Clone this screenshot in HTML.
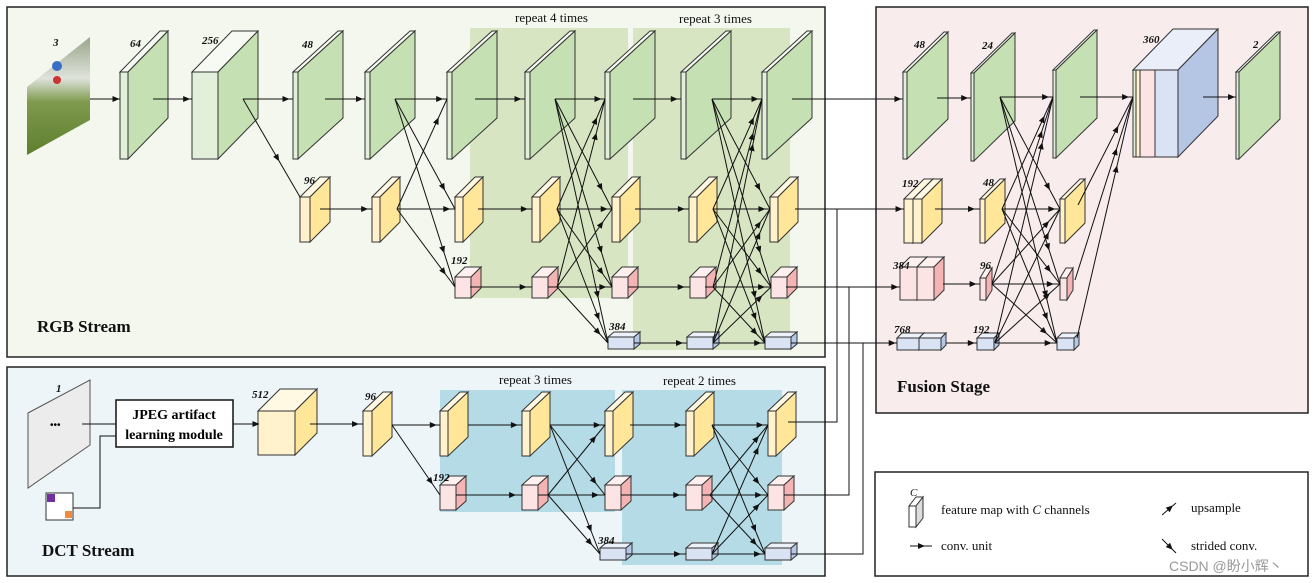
<!DOCTYPE html>
<html><head><meta charset="utf-8"><style>
body{margin:0;background:#fff;width:1315px;height:583px;overflow:hidden}
svg{display:block}
.l{font-family:"Liberation Serif",serif;font-style:italic;font-weight:bold;font-size:11px;fill:#111}
.r{font-family:"Liberation Serif",serif;font-size:13px;fill:#111}
.t{font-family:"Liberation Serif",serif;font-weight:bold;font-size:17px;fill:#111}
</style></head><body>
<svg id="s" width="1315" height="583" viewBox="0 0 1315 583" xmlns="http://www.w3.org/2000/svg">
<rect x="7" y="7" width="818" height="350" fill="#f3f7ee" stroke="#222" stroke-width="1.5"/>
<rect x="7" y="367" width="818" height="209" fill="#edf5f8" stroke="#222" stroke-width="1.5"/>
<rect x="876" y="7" width="432" height="406" fill="#f8eced" stroke="#222" stroke-width="1.5"/>
<rect x="875" y="472" width="433" height="104" fill="#fff" stroke="#222" stroke-width="1.5"/>
<rect x="470" y="28" width="158" height="270" fill="#d8e5c3"/>
<rect x="633" y="28" width="157" height="322" fill="#d8e5c3"/>
<rect x="440" y="390" width="175" height="122" fill="#b5dce6"/>
<rect x="622" y="390" width="160" height="175" fill="#b5dce6"/>
<defs><linearGradient id="img" x1="0" y1="0" x2="0" y2="1"><stop offset="0" stop-color="#9aa58a"/><stop offset="0.35" stop-color="#dfe3dc"/><stop offset="0.55" stop-color="#7f9a4e"/><stop offset="1" stop-color="#5e7f2e"/></linearGradient></defs>
<polygon points="27,87 90,37 90,120 27,155" fill="url(#img)"/>
<circle cx="57" cy="66" r="5" fill="#3a6fc8"/><circle cx="57" cy="80" r="4" fill="#c33"/>
<polygon points="28,413 90,380 90,445 28,488" fill="#ececec" stroke="#555"/>
<rect x="116" y="400" width="117" height="47" fill="#fff" stroke="#111" stroke-width="1.5"/>
<text x="174" y="419" text-anchor="middle" style="font-family:'Liberation Serif',serif;font-weight:bold;font-size:14px">JPEG artifact</text>
<text x="174" y="439" text-anchor="middle" style="font-family:'Liberation Serif',serif;font-weight:bold;font-size:14px">learning module</text>
<rect x="46" y="493" width="27" height="27" fill="#fff" stroke="#333"/>
<rect x="47" y="494" width="8" height="8" fill="#7030a0"/><rect x="65" y="511" width="7" height="7" fill="#f08a3c"/>
<polyline points="73,508 100,508 100,436 116,436" fill="none" stroke="#111"/>
<line x1="82" y1="424" x2="116" y2="424" stroke="#111"/>
<g id="g"></g>
<text class="l" x="53" y="46">3</text><text class="l" x="130" y="47">64</text><text class="l" x="202" y="44">256</text>
<text class="l" x="302" y="48">48</text><text class="l" x="304" y="184">96</text><text class="l" x="451" y="264">192</text>
<text class="l" x="609" y="330">384</text>
<text class="l" x="914" y="48">48</text><text class="l" x="982" y="49">24</text><text class="l" x="1143" y="43">360</text><text class="l" x="1253" y="48">2</text>
<text class="l" x="902" y="187">192</text><text class="l" x="983" y="186">48</text><text class="l" x="893" y="269">384</text><text class="l" x="980" y="269">96</text>
<text class="l" x="894" y="333">768</text><text class="l" x="973" y="333">192</text>
<text class="l" x="56" y="392">1</text><text class="l" x="252" y="398">512</text><text class="l" x="365" y="400">96</text>
<text class="l" x="433" y="481">192</text><text class="l" x="598" y="544">384</text>
<text class="r" x="515" y="22">repeat 4 times</text><text class="r" x="679" y="23">repeat 3 times</text>
<text class="r" x="499" y="384">repeat 3 times</text><text class="r" x="663" y="385">repeat 2 times</text>
<text class="t" x="37" y="332">RGB Stream</text><text class="t" x="42" y="556">DCT Stream</text><text class="t" x="897" y="392">Fusion Stage</text>
<text x="50" y="428" style="font-family:'Liberation Sans',sans-serif;font-size:10px">•••</text>
<text class="r" x="941" y="514">feature map with <tspan font-style="italic">C</tspan> channels</text>
<text class="r" x="941" y="550">conv. unit</text><text class="r" x="1191" y="512">upsample</text><text class="r" x="1191" y="550">strided conv.</text>
<text x="1169" y="571" style="font-family:'Liberation Sans','Noto Sans CJK SC',sans-serif;font-size:14px;fill:#999">CSDN @盼小辉丶</text>
<text class="l" x="910" y="496" style="font-weight:normal">C</text>
</svg>
<script>
var g=document.getElementById('g'),buf='';
var C={G:['#e2efda','#c5e0b3','#f6faf2'],Y:['#fff2cc','#ffe699','#fff8e3'],P:['#fde4e4','#f4b4b4','#fff0f0'],B:['#dae3f3','#b4c7e7','#edf1f9'],W:['#fff','#ddd','#fff']};
function P(pts,f){buf+='<polygon points="'+pts.join(' ')+'" fill="'+f+'" stroke="#333" stroke-width="1"/>';}
function b(x,y,w,h,dx,dy,t){var c=C[t];P([x,y,x+dx,y-dy,x+w+dx,y-dy,x+w,y],c[2]);P([x+w,y,x+w+dx,y-dy,x+w+dx,y+h-dy,x+w,y+h],c[1]);P([x,y,x+w,y,x+w,y+h,x,y+h],c[0]);}
var L='';
function a(x1,y1,x2,y2,t){if(t===undefined)t=0.75;L+='<line x1="'+x1+'" y1="'+y1+'" x2="'+x2+'" y2="'+y2+'" stroke="#111" stroke-width="1"/>';
var px=x1+(x2-x1)*t,py=y1+(y2-y1)*t,an=Math.atan2(y2-y1,x2-x1)*180/Math.PI;
L+='<polygon points="4,0 -3,-3 -3,3" fill="#111" transform="translate('+px+','+py+') rotate('+an+')"/>';}
function ln(p){L+='<polyline points="'+p.join(' ')+'" fill="none" stroke="#111"/>';}
b(120,72,8,87,40,41,'G');b(192,72,26,87,40,41,'G');
[293,365,447,525,605,681,762].forEach(function(x){b(x,72,5,87,45,41,'G');});
[372,455,532,612,689,770].forEach(function(x){b(x,197,8,45,20,20,'Y');});b(300,197,10,45,20,20,'Y');
[455,532,612,690,771].forEach(function(x){b(x,277,16,21,10,10,'P');});
[608,687,765].forEach(function(x){b(x,337,26,12,6,5,'B');});
[[90,120],[153,192],[243,293],[325,365],[395,447],[475,525],[555,605],[633,681],[712,762]].forEach(function(p){a(p[0],99,p[1],99,0.85);});
a(243,99,300,197,0.6);
[[320,372],[397,455],[478,532],[557,612],[635,689],[713,770]].forEach(function(p){a(p[0],209,p[1],209,0.85);});
[[470,532],[548,612],[628,690],[705,771]].forEach(function(p){a(p[0],287,p[1],287,0.85);});
[[634,687],[713,765]].forEach(function(p){a(p[0],343,p[1],343,0.85);});
function full(S,T){S.forEach(function(s){T.forEach(function(t){if(s[1]!=t[1])a(s[0],s[1],t[0],t[1],0.8);});});}
full([[395,99],[397,209]],[[447,99],[455,209],[455,287]]);
full([[555,99],[557,209],[557,287]],[[605,99],[612,209],[612,287],[608,343]]);
full([[712,99],[713,209],[713,287],[713,343]],[[762,99],[770,209],[771,287],[765,343]]);
b(258,411,37,44,22,22,'Y');b(363,411,9,45,20,19,'Y');
[440,522,605,686,768].forEach(function(x){b(x,411,8,45,20,19,'Y');});
[440,522,605,686,768].forEach(function(x){b(x,485,16,25,10,9,'P');});
[600,686,765].forEach(function(x){b(x,548,26,12,6,5,'B');});
a(233,424,258,424,0.9);a(310,424,363,424,0.85);
[[392,440],[468,522],[550,605],[630,686],[712,768]].forEach(function(p){a(p[0],425,p[1],425,0.85);});
[[456,522],[538,605],[621,686],[702,768]].forEach(function(p){a(p[0],495,p[1],495,0.85);});
[[626,686],[712,765]].forEach(function(p){a(p[0],554,p[1],554,0.85);});
a(392,425,440,495,0.8);
full([[550,425],[548,495]],[[605,425],[605,495],[600,554]]);
full([[712,425],[710,495],[712,554]],[[768,425],[768,495],[765,554]]);
a(792,99,903,99,0.95);a(795,209,904,209,0.95);a(786,287,900,287,0.95);a(791,343,897,343,0.95);
ln([784,495,849,495,849,287]);ln([791,554,863,554,863,343]);ln([788,422,837,422,837,209]);
b(903,72,4,87,41,40,'G');b(971,73,3,88,41,40,'G');b(1053,70,3,88,41,40,'G');b(1236,72,3,87,41,40,'G');
b(904,199,9,44,20,20,'Y');b(913,199,9,44,20,20,'Y');b(980,199,5,44,20,20,'Y');b(1060,199,5,44,20,20,'Y');
b(900,267,17,33,10,10,'P');b(917,267,17,33,10,10,'P');b(980,278,6,22,6,10,'P');b(1060,278,7,22,6,10,'P');
b(897,338,22,12,5,5,'B');b(919,338,22,12,5,5,'B');b(977,338,17,12,5,5,'B');b(1057,338,17,12,5,5,'B');
P([1133,70,1173,29,1218,29,1178,70],'#eaeef8');
P([1178,70,1218,29,1218,116,1178,157],'#b4c6e4');
P([1133,70,1136,70,1136,157,1133,157],'#e2efda');P([1136,70,1140,70,1140,157,1136,157],'#fff2cc');
P([1140,70,1155,70,1155,157,1140,157],'#fde4e4');P([1155,70,1178,70,1178,157,1155,157],'#dae3f3');
a(937,98,971,98,0.8);a(1000,97,1053,97,0.85);a(1080,97,1133,97,0.85);a(1203,97,1236,97,0.85);
a(935,209,980,209,0.8);a(1002,209,1060,209,0.85);a(943,284,980,284,0.8);a(992,284,1060,284,0.85);a(946,343,977,343,0.8);a(995,343,1057,343,0.85);
full([[1000,97],[1002,209],[992,284],[995,343]],[[1053,97],[1060,209],[1060,284],[1057,343]]);
a(1078,205,1133,97,0.7);a(1075,280,1133,97,0.7);a(1077,338,1133,97,0.7);
b(909,506,7,21,7,9,'W');
a(910,546,932,546,0.5);
L+='<line x1="1162" y1="515" x2="1176" y2="503" stroke="#111"/><polygon points="4,0 -3,-3 -3,3" fill="#111" transform="translate(1170,508) rotate(-40)"/>';
L+='<line x1="1162" y1="539" x2="1176" y2="553" stroke="#111"/><polygon points="4,0 -3,-3 -3,3" fill="#111" transform="translate(1170,547) rotate(45)"/>';
g.innerHTML=buf+L;
</script>
</body></html>
